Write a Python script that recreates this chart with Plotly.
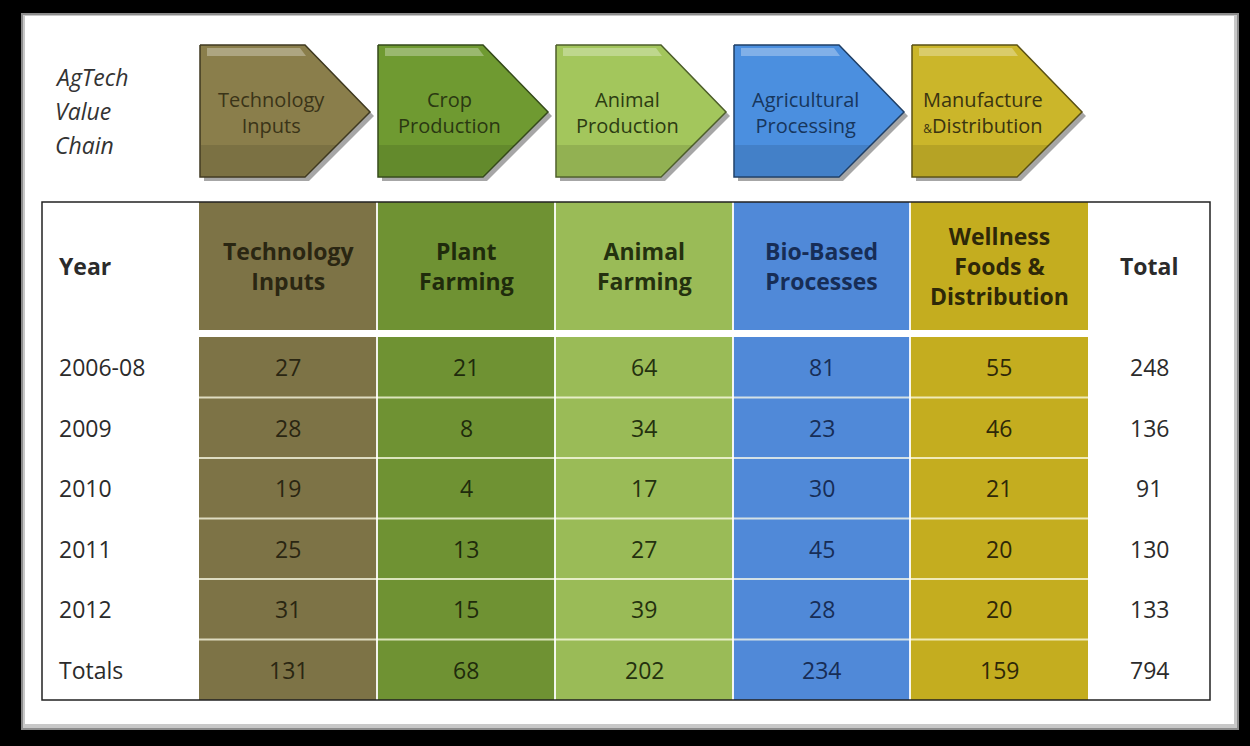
"""
AgTech value chain table
Rebuilds the deal-count table with the value-chain arrows above it
"""

import plotly.graph_objects as go

# ---- data ----
years = ['2006-08', '2009', '2010', '2011', '2012', 'Totals']
tech_inputs = [27, 28, 19, 25, 31, 131]
plant_farming = [21, 8, 4, 13, 15, 68]
animal_farming = [64, 34, 17, 27, 39, 202]
bio_based = [81, 23, 30, 45, 28, 234]
wellness = [55, 46, 21, 20, 20, 159]
totals = [248, 136, 91, 130, 133, 794]

headers = ['Year', 'Technology<br>Inputs', 'Plant<br>Farming', 'Animal<br>Farming',
           'Bio-Based<br>Processes', 'Wellness<br>Foods &<br>Distribution', 'Total']

stages = ['Technology<br>Inputs', 'Crop<br>Production', 'Animal<br>Production',
          'Agricultural<br>Processing',
          'Manufacture<br><span style="font-size:12px">&</span>Distribution']

# ---- styling ----
FONT = 'Open Sans'
W, H = 1250, 746

col_fill = [None, '#7d7346', '#6f9233', '#9abb57', '#5089d8', '#c4ad1f', None]
col_text = ['#2b2b2b', '#2a2612', '#1f2b0c', '#24310f', '#172d56', '#2e2808', '#2b2b2b']
col_edges = [42, 199, 377, 555, 733, 910, 1088, 1210]

stage_fill = ['#8a7e4b', '#6f9a31', '#a3c65c', '#4b8fdf', '#cbb62a']
stage_line = ['#3f3920', '#34491a', '#4d5e2a', '#1f3f66', '#5a5014']
stage_text = ['#3a3418', '#2a3812', '#2c3c12', '#17365d', '#3a3410']

header_top, header_bottom = 202, 330
body_top, row_h = 337, 60.5

columns = [years, tech_inputs, plant_farming, animal_farming, bio_based, wellness, totals]


def main():
    fig = go.Figure()
    shapes = []
    annotations = []

    # white card with soft grey rim on black background
    shapes.append(dict(type='rect', x0=21, y0=13, x1=1239, y1=730,
                       fillcolor='#8c8c8c', line_width=0, layer='below'))
    shapes.append(dict(type='rect', x0=23, y0=15, x1=1237, y1=728,
                       fillcolor='#c8c8c8', line_width=0, layer='below'))
    shapes.append(dict(type='rect', x0=25, y0=16, x1=1234, y1=724,
                       fillcolor='white', line_width=0, layer='below'))

    # value chain label
    for i, word in enumerate(['AgTech', 'Value', 'Chain']):
        annotations.append(dict(x=53, y=77 + i * 34, text=word, showarrow=False,
                                xanchor='left', yanchor='middle',
                                font=dict(family=FONT, size=23, color='#333333', style='italic')))

    # value chain arrows
    for i, label in enumerate(stages):
        x0 = 200 + i * 178
        top, bot, mid = 45, 177, 112
        px = [x0, x0 + 105, x0 + 170, x0 + 105, x0, x0]
        py = [top, top, mid, bot, bot, top]
        fig.add_trace(go.Scatter(x=[v + 4 for v in px], y=[v + 4 for v in py],
                                 fill='toself', mode='lines', line=dict(width=0),
                                 fillcolor='rgba(0,0,0,0.35)', hoverinfo='skip'))
        fig.add_trace(go.Scatter(x=px, y=py, fill='toself', mode='lines',
                                 line=dict(color=stage_line[i], width=1.5),
                                 fillcolor=stage_fill[i], hoverinfo='skip'))
        # lower shading
        fig.add_trace(go.Scatter(x=[x0 + 1, x0 + 137, x0 + 104, x0 + 1, x0 + 1],
                                 y=[145, 145, bot - 1, bot - 1, 145],
                                 fill='toself', mode='lines', line=dict(width=0),
                                 fillcolor='rgba(0,0,0,0.10)', hoverinfo='skip'))
        # top highlight
        fig.add_trace(go.Scatter(x=[x0 + 7, x0 + 100, x0 + 106, x0 + 7, x0 + 7],
                                 y=[48, 48, 56, 56, 48],
                                 fill='toself', mode='lines', line=dict(width=0),
                                 fillcolor='rgba(255,255,255,0.30)', hoverinfo='skip'))
        annotations.append(dict(x=x0 + 71, y=mid, text=label, showarrow=False,
                                xanchor='center', yanchor='middle',
                                font=dict(family=FONT, size=20, color=stage_text[i])))

    # table cells
    n_rows = len(years)
    body_bottom = body_top + n_rows * row_h
    for c in range(len(columns)):
        x0, x1 = col_edges[c], col_edges[c + 1]
        if col_fill[c]:
            shapes.append(dict(type='rect', x0=x0, x1=x1, y0=header_top, y1=header_bottom,
                               fillcolor=col_fill[c], line_width=0, layer='below'))
            shapes.append(dict(type='rect', x0=x0, x1=x1, y0=body_top, y1=body_bottom,
                               fillcolor=col_fill[c], line_width=0, layer='below'))
        xa = 57 if c == 0 else (x0 + x1) / 2
        anchor = 'left' if c == 0 else 'center'
        annotations.append(dict(x=xa, y=(header_top + header_bottom) / 2, text=f'<b>{headers[c]}</b>',
                                showarrow=False, xanchor=anchor, yanchor='middle',
                                font=dict(family=FONT, size=23, color=col_text[c])))
        for r, val in enumerate(columns[c]):
            annotations.append(dict(x=xa, y=body_top + (r + 0.5) * row_h, text=str(val),
                                    showarrow=False, xanchor=anchor, yanchor='middle',
                                    font=dict(family=FONT, size=23, color=col_text[c])))

    # light separators inside the coloured block
    for r in range(1, n_rows):
        y = body_top + r * row_h
        shapes.append(dict(type='line', x0=col_edges[1], x1=col_edges[6], y0=y, y1=y,
                           line=dict(color='rgba(255,255,235,0.75)', width=2), layer='below'))
    for c in range(2, 6):
        shapes.append(dict(type='line', x0=col_edges[c], x1=col_edges[c], y0=header_top, y1=body_bottom,
                           line=dict(color='rgba(255,255,255,0.9)', width=2), layer='below'))

    # table outline
    shapes.append(dict(type='rect', x0=col_edges[0], x1=col_edges[-1], y0=header_top, y1=body_bottom,
                       line=dict(color='#222222', width=1.5), layer='below'))

    fig.update_layout(
        width=W, height=H,
        margin=dict(l=0, r=0, t=0, b=0),
        paper_bgcolor='black', plot_bgcolor='black',
        showlegend=False,
        shapes=shapes, annotations=annotations,
        xaxis=dict(range=[0, W], visible=False, fixedrange=True),
        yaxis=dict(range=[H, 0], visible=False, fixedrange=True),
    )

    # page body has a default 8px margin; drop it so the figure fills the window
    fig.write_html('out.html', config={'displayModeBar': False},
                   post_script="document.body.style.margin='0';"
                               "document.body.style.background='black';")


if __name__ == '__main__':
    main()
